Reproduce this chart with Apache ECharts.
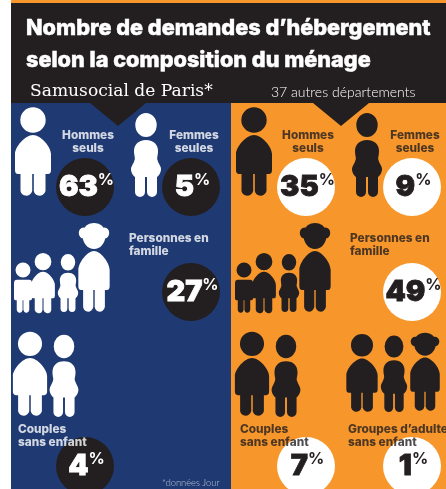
<!DOCTYPE html>
<html><head><meta charset="utf-8">
<style>html,body{margin:0;padding:0;background:#fff;overflow:hidden}#c{width:446px;height:489px}</style>
<script src="https://cdn.jsdelivr.net/npm/echarts@6/dist/echarts.min.js"></script></head>
<body><div id="c"></div>
<script>
const titleText = "Nombre de demandes d’hébergement\nselon la composition du ménage";
const panelNames = ["Samusocial de Paris*", "37 autres départements"];
const samusocialGroups = ["Hommes\nseuls", "Femmes\nseules", "Personnes en\nfamille", "Couples\nsans enfant"];
const samusocialValues = [63, 5, 27, 4];
const autresGroups = ["Hommes\nseuls", "Femmes\nseules", "Personnes en\nfamille", "Couples\nsans enfant", "Groupes d’adultes\nsans enfant"];
const autresValues = [35, 9, 49, 7, 1];
const noteText = "*données Jour";

const BLACK = "#231f20", BLUE = "#1f3a72", ORANGE = "#f7962b", WHITE = "#ffffff";
const FONT = "Inter, Lato, sans-serif";
const LIGHT = "Lato, 'Open Sans', sans-serif";

/* layout: circle centres and label anchors, slot by slot */
const circleSlots = {
  left: [[85, 187], [191, 187], [191, 292], [85, 466]],
  right: [[306, 187], [412, 187], [412, 292], [306, 466], [412, 466]]
};
const labelSlots = {
  left: [[88, 142, "center"], [194, 142, "center"], [129, 244.5, "left"], [18, 435.5, "left"]],
  right: [[308, 142, "center"], [415, 142, "center"], [350, 244.5, "left"], [240, 435.5, "left"], [348, 435.5, "left"]]
};

/* pictogram outlines, local coords: centre x = 0, feet y = 0 */
const circ = (cx, cy, rx, ry) => `M${cx - rx} ${cy}A${rx} ${ry} 0 1 0 ${cx + rx} ${cy}A${rx} ${ry} 0 1 0 ${cx - rx} ${cy}Z`;
const manBody = "M-18 -27L-18 -43C-18 -50 -8 -62 0 -62C8 -62 18 -50 18 -43L18 -27Q18 -23 15 -23L12.5 -23L12.5 -6A6 6 0 0 1 0.8 -6L0.8 -23L-0.8 -23L-0.8 -6A6 6 0 0 1 -12.5 -6L-12.5 -23L-15 -23Q-18 -23 -18 -27Z";
const womanBody = "M0 -57C8 -57 12 -52 12 -46C12 -41 10.5 -39 11.5 -37C12.5 -33 15 -31 15 -28C15 -24 12.5 -21 11 -20L11 -5A5 5 0 0 1 1 -5L1 -20L-1 -20L-1 -5A5 5 0 0 1 -11 -5L-11 -20C-12.5 -21 -15 -24 -15 -28C-15 -31 -12.5 -33 -11.5 -37C-10.5 -39 -12 -41 -12 -46C-12 -52 -8 -57 0 -57Z";
const boyBody = "M-18 -52Q-18 -58 -12 -58L12 -58Q18 -58 18 -52L18 -26Q18 -23 15 -23L12.5 -23L12.5 -6A6 6 0 0 1 0.8 -6L0.8 -23L-0.8 -23L-0.8 -6A6 6 0 0 1 -12.5 -6L-12.5 -23L-15 -23Q-18 -23 -18 -26Z";
const shapes = {
  man: circ(0, -77, 12.7, 12.7) + manBody,
  woman: circ(0, -72, 10.7, 12) + womanBody,
  boy: circ(0, -75, 15, 13) + boyBody,
  mother: circ(0, -77, 13, 13) + circ(0, -82, 12, 8) + circ(-12, -80, 5.5, 5.5) + circ(12, -80, 5.5, 5.5) + manBody
};
const shapeNames = Object.keys(shapes);
const figures = [
  ["man", 33, 197, 1, 1], ["woman", 146, 197, 1, 1],
  ["boy", 23, 313.5, 0.5, 0.58], ["man", 43, 314, 0.66, 0.68], ["woman", 68, 312, 0.68, 0.69], ["mother", 94, 313, 0.87, 1],
  ["man", 30, 417, 0.95, 0.95], ["woman", 64, 417, 0.96, 0.98]
];
const extraFigures = [["man", 362, 413, 0.87, 0.88], ["woman", 394, 412, 0.88, 0.91], ["mother", 425, 412, 0.82, 0.88]];

const figureSeries = (name, list, dxFor, fill) => ({
  type: "custom", name, z: 1, silent: true, coordinateSystem: "cartesian2d",
  encode: { x: 0, y: 1 },
  data: list.map(f => [f[1] + dxFor(f), f[2], f[3], f[4], shapeNames.indexOf(f[0])]),
  renderItem: (params, api) => {
    const p = api.coord([api.value(0), api.value(1)]);
    return { type: "path", x: p[0], y: p[1], scaleX: api.value(2), scaleY: api.value(3),
      shape: { pathData: shapes[shapeNames[api.value(4)]] }, style: { fill } };
  }
});

const rect = (x, y, w, h, fill) => ({ type: "rect", z: 0, shape: { x, y, width: w, height: h }, style: { fill } });
const graphics = [
  rect(11, 0, 435, 4, ORANGE), rect(11, 3, 435, 101, BLACK),
  rect(11, 103, 220, 386, BLUE), rect(231, 103, 215, 386, ORANGE),
  { type: "polygon", z: 0, shape: { points: [[90, 103], [146, 103], [118, 126]] }, style: { fill: BLACK } },
  { type: "polygon", z: 0, shape: { points: [[313, 103], [369, 103], [341, 126]] }, style: { fill: BLACK } },
  { type: "text", z: 10, x: 30, y: 83, style: { text: panelNames[0], fill: WHITE, font: "17.1px 'DejaVu Serif', serif" } },
  { type: "text", z: 10, x: 271, y: 85, style: { text: panelNames[1], fill: WHITE, font: "300 14px " + LIGHT } },
  { type: "text", z: 10, x: 162, y: 478, style: { text: noteText, fill: "#b9c3d8", font: "300 9.3px " + LIGHT } }
];

const pctLabel = color => ({
  show: true, position: "inside",
  formatter: p => `{n|${p.data[2]}}{p|%}`,
  rich: {
    n: { fontFamily: FONT, fontWeight: 900, fontSize: 29, color, verticalAlign: "middle", lineHeight: 30,
      padding: [0, 0, 0, 3], textBorderColor: color, textBorderWidth: 0.8 },
    p: { fontFamily: FONT, fontWeight: 700, fontSize: 16, color, verticalAlign: "top", lineHeight: 16 }
  }
});
const circleSeries = (name, slots, values, fill, color) => ({
  type: "scatter", name, z: 2, symbol: "circle", symbolSize: 58, silent: true,
  itemStyle: { color: fill, opacity: 1 },
  data: values.map((v, i) => [slots[i][0], slots[i][1], v]),
  label: pctLabel(color)
});
const labelSeries = (name, slots, texts, color) => ({
  type: "scatter", name, z: 3, symbolSize: 0, silent: true,
  data: texts.map((t, i) => ({
    value: [slots[i][0], slots[i][1]],
    label: { show: true, position: "inside", formatter: t, align: slots[i][2], verticalAlign: "middle",
      color, fontFamily: FONT, fontWeight: 800, fontSize: 11.8, lineHeight: 13 }
  }))
});

const chart = echarts.init(document.getElementById("c"), null, { renderer: "canvas" });
chart.setOption({
  animation: false, backgroundColor: WHITE,
  title: { text: titleText, left: 26, top: 12, padding: 0, z: 10, textStyle: { color: WHITE, fontFamily: FONT, fontWeight: 800, fontSize: 21.7, lineHeight: 32, textBorderColor: WHITE, textBorderWidth: 0.5 } },
  grid: { left: 0, right: 0, top: 0, bottom: 0 },
  xAxis: { type: "value", min: 0, max: 446, show: false },
  yAxis: { type: "value", min: 0, max: 489, inverse: true, show: false },
  graphic: { elements: graphics },
  series: [
    figureSeries("Silhouettes Samusocial", figures, () => 0, WHITE),
    figureSeries("Silhouettes autres", figures, f => (f[2] > 400 ? 222 : 221), BLACK),
    figureSeries("Silhouettes groupes", extraFigures, () => 0, BLACK),
    circleSeries("Samusocial de Paris", circleSlots.left, samusocialValues, BLACK, WHITE),
    circleSeries("37 autres départements", circleSlots.right, autresValues, WHITE, BLACK),
    labelSeries("Libellés Samusocial", labelSlots.left, samusocialGroups, WHITE),
    labelSeries("Libellés autres", labelSlots.right, autresGroups, BLACK)
  ]
});
</script></body></html>
